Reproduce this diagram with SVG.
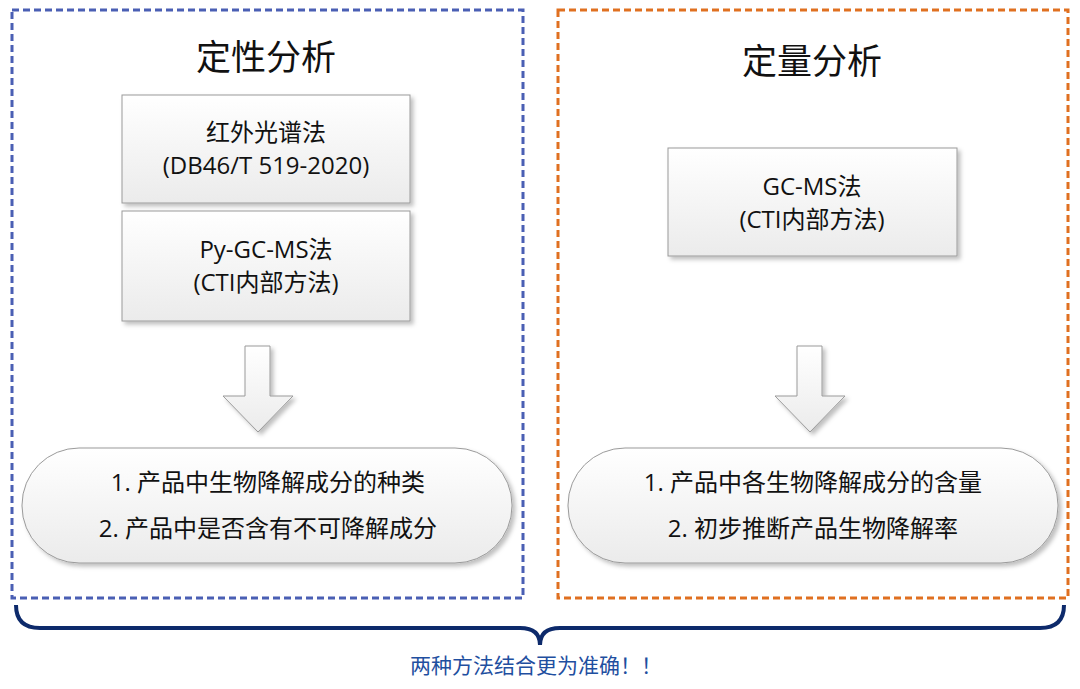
<svg xmlns="http://www.w3.org/2000/svg" width="1080" height="689" viewBox="0 0 1080 689">
<defs>
<linearGradient id="g" x1="0" y1="0" x2="0" y2="1"><stop offset="0" stop-color="#ffffff"/><stop offset="1" stop-color="#ebebeb"/></linearGradient>
<filter id="sh" x="-10%" y="-10%" width="130%" height="130%"><feDropShadow dx="3" dy="3" stdDeviation="2" flood-color="#000" flood-opacity="0.25"/></filter>
<style>
.box{fill:url(#g);stroke:#9a9a9a;stroke-width:1;filter:url(#sh)}
.t{font-family:"Open Sans","Noto Sans CJK SC",sans-serif;fill:#111;text-anchor:middle}
</style>
</defs>
<rect width="1080" height="689" fill="#fff"/>
<g id="frame-left"><rect x="12" y="10" width="511" height="588" fill="none" stroke="#4a5fb4" stroke-width="3" stroke-dasharray="7,4"/></g>
<g id="frame-right"><rect x="558" y="10" width="510" height="588" fill="none" stroke="#e07020" stroke-width="3" stroke-dasharray="7,4"/></g>
<g id="title-left"><text class="t" x="266" y="70" font-size="35">定性分析</text></g>
<g id="title-right"><text class="t" x="812" y="74" font-size="35">定量分析</text></g>
<g id="ir"><rect class="box" x="122" y="95" width="288" height="108"/><text class="t" x="266" y="141" font-size="24">红外光谱法</text><text class="t" x="266" y="174" font-size="24">(DB46/T 519-2020)</text></g>
<g id="py"><rect class="box" x="122" y="211" width="288" height="110"/><text class="t" x="266" y="258" font-size="24">Py-GC-MS法</text><text class="t" x="266" y="291" font-size="24">(CTI内部方法)</text></g>
<g id="gcms"><rect class="box" x="668" y="148" width="289" height="108"/><text class="t" x="812" y="195" font-size="24">GC-MS法</text><text class="t" x="812" y="228" font-size="24">(CTI内部方法)</text></g>
<g id="connectors">
<path class="box" d="M245,346 H270 V396 H293 L258,432 L223,396 H245 Z"/>
<path class="box" d="M797,346 H822 V396 H845 L810,432 L775,396 H797 Z"/>
<path d="M16,605 Q16,628 40,628 H520 Q540,628 540,645 Q540,628 560,628 H1040 Q1064,628 1064,605" fill="none" stroke="#0d2a6b" stroke-width="4"/>
</g>
<g id="result-left"><rect class="box" x="22" y="448" width="490" height="115" rx="57"/><text class="t" x="268" y="491" font-size="24">1. 产品中生物降解成分的种类</text><text class="t" x="268" y="537" font-size="24">2. 产品中是否含有不可降解成分</text></g>
<g id="result-right"><rect class="box" x="568" y="448" width="490" height="115" rx="57"/><text class="t" x="813" y="491" font-size="24">1. 产品中各生物降解成分的含量</text><text class="t" x="813" y="537" font-size="24">2. 初步推断产品生物降解率</text></g>
<g id="note"><text class="t" x="536" y="673" font-size="21" style="fill:#1f4fa0">两种方法结合更为准确！！</text></g>
</svg>
